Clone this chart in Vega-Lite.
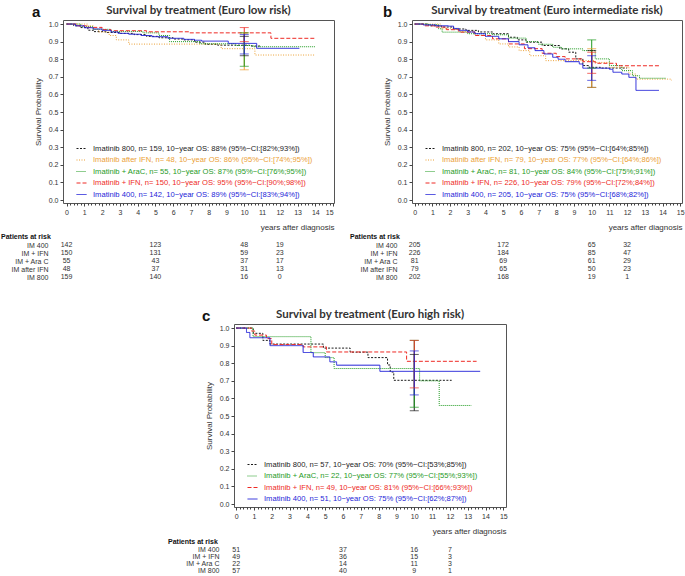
{
  "$schema": "https://vega.github.io/schema/vega-lite/v6.json",
  "padding": {"left": 1, "top": 4, "right": 0, "bottom": 0},
  "background": "white",
  "config": {
    "view": {"stroke": "#555", "strokeWidth": 1},
    "font": "Liberation Sans",
    "axis": {"labelFont": "Liberation Sans", "labelFontSize": 7, "labelColor": "#333", "tickColor": "#444", "titleFont": "Liberation Sans", "titleFontWeight": "normal", "titleFontSize": 8, "titleColor": "#333", "grid": false, "domain": false}
  },
  "datasets": {
    "curvesA": [
      {"g": "800", "t": 0, "s": 1}, {"g": "800", "t": 0.4, "s": 0.99}, {"g": "800", "t": 0.8, "s": 0.98}, {"g": "800", "t": 1.2, "s": 0.965}, {"g": "800", "t": 1.5, "s": 0.957}, {"g": "800", "t": 2.2, "s": 0.952}, {"g": "800", "t": 3, "s": 0.947}, {"g": "800", "t": 3.8, "s": 0.94}, {"g": "800", "t": 4.5, "s": 0.93}, {"g": "800", "t": 5.2, "s": 0.922}, {"g": "800", "t": 6, "s": 0.915}, {"g": "800", "t": 6.6, "s": 0.91}, {"g": "800", "t": 7.2, "s": 0.897}, {"g": "800", "t": 7.8, "s": 0.885}, {"g": "800", "t": 8.5, "s": 0.88}, {"g": "800", "t": 10.3, "s": 0.875}, {"g": "800", "t": 10.9, "s": 0.875},
      {"g": "afterIFN", "t": 0, "s": 1}, {"g": "afterIFN", "t": 1.2, "s": 0.99}, {"g": "afterIFN", "t": 1.5, "s": 0.97}, {"g": "afterIFN", "t": 1.8, "s": 0.955}, {"g": "afterIFN", "t": 2.4, "s": 0.935}, {"g": "afterIFN", "t": 2.8, "s": 0.91}, {"g": "afterIFN", "t": 3.5, "s": 0.886}, {"g": "afterIFN", "t": 8.7, "s": 0.86}, {"g": "afterIFN", "t": 10.6, "s": 0.824}, {"g": "afterIFN", "t": 14, "s": 0.824},
      {"g": "AraC", "t": 0, "s": 1}, {"g": "AraC", "t": 0.8, "s": 0.985}, {"g": "AraC", "t": 1.5, "s": 0.97}, {"g": "AraC", "t": 2.5, "s": 0.958}, {"g": "AraC", "t": 4.3, "s": 0.95}, {"g": "AraC", "t": 5.2, "s": 0.935}, {"g": "AraC", "t": 5.8, "s": 0.9}, {"g": "AraC", "t": 7.5, "s": 0.888}, {"g": "AraC", "t": 9.5, "s": 0.878}, {"g": "AraC", "t": 10.5, "s": 0.871}, {"g": "AraC", "t": 14, "s": 0.871},
      {"g": "IFN", "t": 0, "s": 1}, {"g": "IFN", "t": 0.6, "s": 0.99}, {"g": "IFN", "t": 1.2, "s": 0.981}, {"g": "IFN", "t": 2, "s": 0.968}, {"g": "IFN", "t": 2.5, "s": 0.962}, {"g": "IFN", "t": 4.5, "s": 0.956}, {"g": "IFN", "t": 6.9, "s": 0.95}, {"g": "IFN", "t": 11.5, "s": 0.919}, {"g": "IFN", "t": 14, "s": 0.919},
      {"g": "400", "t": 0, "s": 1}, {"g": "400", "t": 0.5, "s": 0.99}, {"g": "400", "t": 1, "s": 0.979}, {"g": "400", "t": 1.5, "s": 0.972}, {"g": "400", "t": 2, "s": 0.964}, {"g": "400", "t": 2.5, "s": 0.955}, {"g": "400", "t": 2.9, "s": 0.947}, {"g": "400", "t": 3.5, "s": 0.942}, {"g": "400", "t": 4.2, "s": 0.935}, {"g": "400", "t": 4.8, "s": 0.928}, {"g": "400", "t": 5.7, "s": 0.919}, {"g": "400", "t": 6.6, "s": 0.913}, {"g": "400", "t": 7.2, "s": 0.908}, {"g": "400", "t": 7.6, "s": 0.903}, {"g": "400", "t": 9.1, "s": 0.89}, {"g": "400", "t": 10.7, "s": 0.862}, {"g": "400", "t": 13.1, "s": 0.862}
    ],
    "curvesB": [
      {"g": "800", "t": 0, "s": 1}, {"g": "800", "t": 0.8, "s": 0.99}, {"g": "800", "t": 1.5, "s": 0.983}, {"g": "800", "t": 2.2, "s": 0.972}, {"g": "800", "t": 2.9, "s": 0.964}, {"g": "800", "t": 3.6, "s": 0.955}, {"g": "800", "t": 4.4, "s": 0.945}, {"g": "800", "t": 5.3, "s": 0.925}, {"g": "800", "t": 5.8, "s": 0.91}, {"g": "800", "t": 6.3, "s": 0.897}, {"g": "800", "t": 7.2, "s": 0.878}, {"g": "800", "t": 8.2, "s": 0.859}, {"g": "800", "t": 8.7, "s": 0.84}, {"g": "800", "t": 9.1, "s": 0.802}, {"g": "800", "t": 9.5, "s": 0.764}, {"g": "800", "t": 9.85, "s": 0.754}, {"g": "800", "t": 10.5, "s": 0.75}, {"g": "800", "t": 12, "s": 0.75},
      {"g": "afterIFN", "t": 0, "s": 1}, {"g": "afterIFN", "t": 1.5, "s": 0.973}, {"g": "afterIFN", "t": 2.5, "s": 0.958}, {"g": "afterIFN", "t": 3.4, "s": 0.935}, {"g": "afterIFN", "t": 4, "s": 0.91}, {"g": "afterIFN", "t": 4.75, "s": 0.887}, {"g": "afterIFN", "t": 5.3, "s": 0.87}, {"g": "afterIFN", "t": 5.9, "s": 0.849}, {"g": "afterIFN", "t": 6.5, "s": 0.82}, {"g": "afterIFN", "t": 7.4, "s": 0.792}, {"g": "afterIFN", "t": 10.2, "s": 0.782}, {"g": "afterIFN", "t": 11, "s": 0.754}, {"g": "afterIFN", "t": 12.1, "s": 0.716}, {"g": "afterIFN", "t": 12.5, "s": 0.687}, {"g": "afterIFN", "t": 14.5, "s": 0.68},
      {"g": "AraC", "t": 0, "s": 1}, {"g": "AraC", "t": 0.8, "s": 0.996}, {"g": "AraC", "t": 1.35, "s": 0.973}, {"g": "AraC", "t": 1.55, "s": 0.954}, {"g": "AraC", "t": 3, "s": 0.945}, {"g": "AraC", "t": 4.4, "s": 0.939}, {"g": "AraC", "t": 5.3, "s": 0.92}, {"g": "AraC", "t": 6.3, "s": 0.9}, {"g": "AraC", "t": 7, "s": 0.885}, {"g": "AraC", "t": 7.8, "s": 0.868}, {"g": "AraC", "t": 8.3, "s": 0.859}, {"g": "AraC", "t": 9.5, "s": 0.849}, {"g": "AraC", "t": 10.2, "s": 0.802}, {"g": "AraC", "t": 11, "s": 0.764}, {"g": "AraC", "t": 11.7, "s": 0.735}, {"g": "AraC", "t": 12.3, "s": 0.706}, {"g": "AraC", "t": 12.7, "s": 0.692}, {"g": "AraC", "t": 14.2, "s": 0.692},
      {"g": "IFN", "t": 0, "s": 1}, {"g": "IFN", "t": 0.5, "s": 0.99}, {"g": "IFN", "t": 1.2, "s": 0.983}, {"g": "IFN", "t": 1.8, "s": 0.968}, {"g": "IFN", "t": 2.5, "s": 0.954}, {"g": "IFN", "t": 3.4, "s": 0.935}, {"g": "IFN", "t": 4.4, "s": 0.916}, {"g": "IFN", "t": 5.3, "s": 0.887}, {"g": "IFN", "t": 6.2, "s": 0.86}, {"g": "IFN", "t": 7.2, "s": 0.834}, {"g": "IFN", "t": 8, "s": 0.815}, {"g": "IFN", "t": 8.5, "s": 0.802}, {"g": "IFN", "t": 9.5, "s": 0.786}, {"g": "IFN", "t": 10.2, "s": 0.777}, {"g": "IFN", "t": 11.4, "s": 0.763}, {"g": "IFN", "t": 13.8, "s": 0.763},
      {"g": "400", "t": 0, "s": 1}, {"g": "400", "t": 0.5, "s": 0.995}, {"g": "400", "t": 1.2, "s": 0.99}, {"g": "400", "t": 1.9, "s": 0.988}, {"g": "400", "t": 2.2, "s": 0.975}, {"g": "400", "t": 2.5, "s": 0.964}, {"g": "400", "t": 3, "s": 0.955}, {"g": "400", "t": 3.4, "s": 0.945}, {"g": "400", "t": 4, "s": 0.93}, {"g": "400", "t": 4.75, "s": 0.916}, {"g": "400", "t": 5.3, "s": 0.9}, {"g": "400", "t": 5.9, "s": 0.882}, {"g": "400", "t": 6.4, "s": 0.865}, {"g": "400", "t": 6.8, "s": 0.849}, {"g": "400", "t": 7.3, "s": 0.83}, {"g": "400", "t": 7.8, "s": 0.811}, {"g": "400", "t": 8.1, "s": 0.8}, {"g": "400", "t": 8.5, "s": 0.786}, {"g": "400", "t": 9.3, "s": 0.773}, {"g": "400", "t": 9.5, "s": 0.749}, {"g": "400", "t": 11, "s": 0.743}, {"g": "400", "t": 11.2, "s": 0.726}, {"g": "400", "t": 11.7, "s": 0.716}, {"g": "400", "t": 12.1, "s": 0.697}, {"g": "400", "t": 12.5, "s": 0.623}, {"g": "400", "t": 13.8, "s": 0.623}
    ],
    "curvesC": [
      {"g": "800", "t": 0, "s": 1}, {"g": "800", "t": 0.96, "s": 0.97}, {"g": "800", "t": 1.5, "s": 0.93}, {"g": "800", "t": 1.9, "s": 0.909}, {"g": "800", "t": 4.9, "s": 0.886}, {"g": "800", "t": 6.4, "s": 0.863}, {"g": "800", "t": 7.4, "s": 0.832}, {"g": "800", "t": 8.5, "s": 0.79}, {"g": "800", "t": 8.65, "s": 0.75}, {"g": "800", "t": 8.85, "s": 0.703}, {"g": "800", "t": 12.1, "s": 0.703},
      {"g": "AraC", "t": 0, "s": 1}, {"g": "AraC", "t": 0.95, "s": 0.951}, {"g": "AraC", "t": 4.2, "s": 0.86}, {"g": "AraC", "t": 5, "s": 0.832}, {"g": "AraC", "t": 5.5, "s": 0.77}, {"g": "AraC", "t": 10.3, "s": 0.7}, {"g": "AraC", "t": 11.4, "s": 0.56}, {"g": "AraC", "t": 13.2, "s": 0.56},
      {"g": "IFN", "t": 0, "s": 1}, {"g": "IFN", "t": 0.86, "s": 0.983}, {"g": "IFN", "t": 1.05, "s": 0.96}, {"g": "IFN", "t": 1.7, "s": 0.94}, {"g": "IFN", "t": 2, "s": 0.906}, {"g": "IFN", "t": 3.76, "s": 0.893}, {"g": "IFN", "t": 5.07, "s": 0.864}, {"g": "IFN", "t": 9.57, "s": 0.811}, {"g": "IFN", "t": 13.5, "s": 0.811},
      {"g": "400", "t": 0, "s": 1}, {"g": "400", "t": 0.58, "s": 0.975}, {"g": "400", "t": 0.77, "s": 0.945}, {"g": "400", "t": 1.9, "s": 0.9}, {"g": "400", "t": 3.76, "s": 0.861}, {"g": "400", "t": 4.33, "s": 0.836}, {"g": "400", "t": 5.26, "s": 0.808}, {"g": "400", "t": 5.64, "s": 0.789}, {"g": "400", "t": 8.07, "s": 0.754}, {"g": "400", "t": 13.7, "s": 0.754}
    ],
    "ciA": [
      {"g": "800", "t": 10, "lo": 0.82, "hi": 0.93, "est": 0.88},
      {"g": "afterIFN", "t": 10, "lo": 0.74, "hi": 0.95, "est": 0.86},
      {"g": "AraC", "t": 10, "lo": 0.76, "hi": 0.95, "est": 0.87},
      {"g": "IFN", "t": 10, "lo": 0.90, "hi": 0.98, "est": 0.95},
      {"g": "400", "t": 10, "lo": 0.83, "hi": 0.94, "est": 0.89}
    ],
    "ciB": [
      {"g": "800", "t": 10, "lo": 0.64, "hi": 0.85, "est": 0.75},
      {"g": "afterIFN", "t": 10, "lo": 0.64, "hi": 0.86, "est": 0.77},
      {"g": "AraC", "t": 10, "lo": 0.75, "hi": 0.91, "est": 0.84},
      {"g": "IFN", "t": 10, "lo": 0.72, "hi": 0.84, "est": 0.79},
      {"g": "400", "t": 10, "lo": 0.68, "hi": 0.82, "est": 0.75}
    ],
    "ciC": [
      {"g": "800", "t": 10, "lo": 0.53, "hi": 0.85, "est": 0.70},
      {"g": "AraC", "t": 10, "lo": 0.55, "hi": 0.93, "est": 0.77},
      {"g": "IFN", "t": 10, "lo": 0.66, "hi": 0.93, "est": 0.81},
      {"g": "400", "t": 10, "lo": 0.62, "hi": 0.87, "est": 0.75}
    ],
    "riskA": [
      {"row": "IM 400", "t": 0, "n": 142}, {"row": "IM 400", "t": 5, "n": 123}, {"row": "IM 400", "t": 10, "n": 48}, {"row": "IM 400", "t": 12, "n": 19},
      {"row": "IM + IFN", "t": 0, "n": 150}, {"row": "IM + IFN", "t": 5, "n": 131}, {"row": "IM + IFN", "t": 10, "n": 59}, {"row": "IM + IFN", "t": 12, "n": 23},
      {"row": "IM + Ara C", "t": 0, "n": 55}, {"row": "IM + Ara C", "t": 5, "n": 43}, {"row": "IM + Ara C", "t": 10, "n": 37}, {"row": "IM + Ara C", "t": 12, "n": 17},
      {"row": "IM after IFN", "t": 0, "n": 48}, {"row": "IM after IFN", "t": 5, "n": 37}, {"row": "IM after IFN", "t": 10, "n": 31}, {"row": "IM after IFN", "t": 12, "n": 13},
      {"row": "IM 800", "t": 0, "n": 159}, {"row": "IM 800", "t": 5, "n": 140}, {"row": "IM 800", "t": 10, "n": 16}, {"row": "IM 800", "t": 12, "n": 0}
    ],
    "riskB": [
      {"row": "IM 400", "t": 0, "n": 205}, {"row": "IM 400", "t": 5, "n": 172}, {"row": "IM 400", "t": 10, "n": 65}, {"row": "IM 400", "t": 12, "n": 32},
      {"row": "IM + IFN", "t": 0, "n": 226}, {"row": "IM + IFN", "t": 5, "n": 184}, {"row": "IM + IFN", "t": 10, "n": 85}, {"row": "IM + IFN", "t": 12, "n": 47},
      {"row": "IM + Ara C", "t": 0, "n": 81}, {"row": "IM + Ara C", "t": 5, "n": 69}, {"row": "IM + Ara C", "t": 10, "n": 61}, {"row": "IM + Ara C", "t": 12, "n": 29},
      {"row": "IM after IFN", "t": 0, "n": 79}, {"row": "IM after IFN", "t": 5, "n": 65}, {"row": "IM after IFN", "t": 10, "n": 50}, {"row": "IM after IFN", "t": 12, "n": 23},
      {"row": "IM 800", "t": 0, "n": 202}, {"row": "IM 800", "t": 5, "n": 168}, {"row": "IM 800", "t": 10, "n": 19}, {"row": "IM 800", "t": 12, "n": 1}
    ],
    "riskC": [
      {"row": "IM 400", "t": 0, "n": 51}, {"row": "IM 400", "t": 6, "n": 37}, {"row": "IM 400", "t": 10, "n": 16}, {"row": "IM 400", "t": 12, "n": 7},
      {"row": "IM + IFN", "t": 0, "n": 49}, {"row": "IM + IFN", "t": 6, "n": 36}, {"row": "IM + IFN", "t": 10, "n": 15}, {"row": "IM + IFN", "t": 12, "n": 3},
      {"row": "IM + Ara C", "t": 0, "n": 22}, {"row": "IM + Ara C", "t": 6, "n": 14}, {"row": "IM + Ara C", "t": 10, "n": 11}, {"row": "IM + Ara C", "t": 12, "n": 3},
      {"row": "IM 800", "t": 0, "n": 57}, {"row": "IM 800", "t": 6, "n": 40}, {"row": "IM 800", "t": 10, "n": 9}, {"row": "IM 800", "t": 12, "n": 1}
    ]
  },
  "resolve": {"scale": {"color": "independent", "strokeDash": "independent", "strokeWidth": "independent"}},
  "spacing": 27,
  "vconcat": [
    {
      "resolve": {"scale": {"color": "independent", "strokeDash": "independent", "strokeWidth": "independent"}},
      "spacing": 15,
      "hconcat": [
        {
          "title": {"text": "a", "anchor": "start", "fontSize": 15, "fontWeight": "bold", "font": "Liberation Sans", "color": "#111", "offset": -16, "dx": 31},
          "resolve": {"scale": {"color": "independent", "strokeDash": "independent", "strokeWidth": "independent"}},
          "spacing": 1,
          "vconcat": [
            {
              "width": 271, "height": 183,
              "title": {"text": "Survival by treatment (Euro low risk)", "frame": "group", "anchor": "middle", "font": "Lato", "fontSize": 11.5, "fontWeight": "bold", "color": "#333", "offset": 4},
              "resolve": {"axis": {"x": "independent", "y": "independent"}},
              "layer": [
                {
                  "data": {"name": "curvesA"},
                  "mark": {"type": "line", "interpolate": "step-after"},
                  "encoding": {
                    "x": {"field": "t", "type": "quantitative", "scale": {"domain": [-0.2, 15.05], "nice": false, "zero": false},
                      "axis": {"orient": "bottom", "values": [0,1,2,3,4,5,6,7,8,9,10,11,12,13,14,15], "format": "d", "tickSize": 3, "labelPadding": 2, "title": "years after diagnosis", "titleAnchor": "end", "titlePadding": 8}},
                    "y": {"field": "s", "type": "quantitative", "scale": {"domain": [-0.017, 1.023], "nice": false, "zero": false},
                      "axis": {"orient": "left", "title": "Survival Probability", "values": [0,0.1,0.2,0.3,0.4,0.5,0.6,0.7,0.8,0.9,1], "format": ".1f", "tickSize": 3, "labelPadding": 2, "titlePadding": 6}},
                    "color": {"field": "g", "type": "nominal", "sort": null,
                      "scale": {"domain": ["800", "afterIFN", "AraC", "IFN", "400"], "range": ["#1b1b1b", "#EBA035", "#1E9A1E", "#EE2A24", "#2424D8"]},
                      "legend": {"orient": "bottom-left", "title": null, "offset": 4, "padding": 0, "symbolType": "stroke", "symbolSize": 100, "symbolStrokeWidth": 1, "symbolOffset": 9, "labelFontSize": 7.6, "labelFont": "Liberation Sans", "labelLimit": 400, "labelOffset": 6, "rowPadding": 1.5,
                        "labelExpr": "{'800': 'Imatinib 800, n= 159, 10−year OS: 88% (95%−CI:[82%;93%])', 'afterIFN': 'Imatinib after IFN, n= 48, 10−year OS: 86% (95%−CI:[74%;95%])', 'AraC': 'Imatinib + AraC, n= 55, 10−year OS: 87% (95%−CI:[76%;95%])', 'IFN': 'Imatinib + IFN, n= 150, 10−year OS: 95% (95%−CI:[90%;98%])', '400': 'Imatinib 400, n= 142, 10−year OS: 89% (95%−CI:[83%;94%])'}[datum.value]",
                        "encode": {"labels": {"update": {"fill": {"signal": "{'800': '#1b1b1b', 'afterIFN': '#EBA035', 'AraC': '#1E9A1E', 'IFN': '#EE2A24', '400': '#2424D8'}[datum.value]"}}}}}},
                    "strokeDash": {"field": "g", "type": "nominal", "sort": null, "scale": {"domain": ["800", "afterIFN", "AraC", "IFN", "400"], "range": [[2, 1.5], [1, 1.5], [1, 1], [4, 2], [1, 0]]}},
                    "strokeWidth": {"field": "g", "type": "nominal", "sort": null, "scale": {"domain": ["800", "afterIFN", "AraC", "IFN", "400"], "range": [1, 1, 1, 1, 1.6]}}
                  }
                },
                {
                  "data": {"name": "ciA"},
                  "mark": {"type": "rule", "strokeWidth": 1},
                  "encoding": {
                    "x": {"field": "t", "type": "quantitative", "axis": {"orient": "bottom", "values": [0,0.2,0.4,0.6,0.8,1,1.2,1.4,1.6,1.8,2,2.2,2.4,2.6,2.8,3,3.2,3.4,3.6,3.8,4,4.2,4.4,4.6,4.8,5,5.2,5.4,5.6,5.8,6,6.2,6.4,6.6,6.8,7,7.2,7.4,7.6,7.8,8,8.2,8.4,8.6,8.8,9,9.2,9.4,9.6,9.8,10,10.2,10.4,10.6,10.8,11,11.2,11.4,11.6,11.8,12,12.2,12.4,12.6,12.8,13,13.2,13.4,13.6,13.8,14,14.2,14.4,14.6,14.8,15], "labels": false, "tickSize": 2, "title": null}},
                    "y": {"field": "lo", "type": "quantitative", "axis": null},
                    "y2": {"field": "hi"},
                    "color": {"field": "g", "type": "nominal", "sort": null}
                  }
                },
                {
                  "data": {"name": "ciA"},
                  "mark": {"type": "tick", "orient": "horizontal", "size": 9, "thickness": 1},
                  "encoding": {"x": {"field": "t", "type": "quantitative", "axis": null}, "y": {"field": "lo", "type": "quantitative", "axis": null}, "color": {"field": "g", "type": "nominal", "sort": null}}
                },
                {
                  "data": {"name": "ciA"},
                  "mark": {"type": "tick", "orient": "horizontal", "size": 9, "thickness": 1},
                  "encoding": {"x": {"field": "t", "type": "quantitative", "axis": null}, "y": {"field": "hi", "type": "quantitative", "axis": null}, "color": {"field": "g", "type": "nominal", "sort": null}}
                }
              ]
            },
            {
              "data": {"name": "riskA"},
              "width": 271, "height": 40,
              "view": {"stroke": null},
              "title": {"text": "Patients at risk", "anchor": "start", "frame": "group", "dx": -62, "fontSize": 7, "fontWeight": "bold", "font": "Liberation Sans", "color": "#111", "offset": 1},
              "mark": {"type": "text", "fontSize": 7, "font": "Liberation Sans", "color": "#333"},
              "encoding": {
                "x": {"field": "t", "type": "quantitative", "scale": {"domain": [-0.2, 15.05], "nice": false, "zero": false}, "axis": null},
                "y": {"field": "row", "type": "nominal", "sort": ["IM 400", "IM + IFN", "IM + Ara C", "IM after IFN", "IM 800"], "axis": {"title": null, "ticks": false, "labelPadding": 15, "labelFontSize": 7}},
                "text": {"field": "n", "type": "quantitative"}
              }
            }
          ]
        },
        {
          "title": {"text": "b", "anchor": "start", "fontSize": 15, "fontWeight": "bold", "font": "Liberation Sans", "color": "#111", "offset": -16, "dx": 33},
          "resolve": {"scale": {"color": "independent", "strokeDash": "independent", "strokeWidth": "independent"}},
          "spacing": 1,
          "vconcat": [
            {
              "width": 270, "height": 183,
              "title": {"text": "Survival by treatment (Euro intermediate risk)", "frame": "group", "anchor": "middle", "font": "Lato", "fontSize": 11.5, "fontWeight": "bold", "color": "#333", "offset": 4},
              "resolve": {"axis": {"x": "independent", "y": "independent"}},
              "layer": [
                {
                  "data": {"name": "curvesB"},
                  "mark": {"type": "line", "interpolate": "step-after"},
                  "encoding": {
                    "x": {"field": "t", "type": "quantitative", "scale": {"domain": [-0.15, 15.1], "nice": false, "zero": false},
                      "axis": {"orient": "bottom", "values": [0,1,2,3,4,5,6,7,8,9,10,11,12,13,14,15], "format": "d", "tickSize": 3, "labelPadding": 2, "title": "years after diagnosis", "titleAnchor": "end", "titlePadding": 8}},
                    "y": {"field": "s", "type": "quantitative", "scale": {"domain": [-0.017, 1.023], "nice": false, "zero": false},
                      "axis": {"orient": "left", "title": "Survival Probability", "values": [0,0.1,0.2,0.3,0.4,0.5,0.6,0.7,0.8,0.9,1], "format": ".1f", "tickSize": 3, "labelPadding": 2, "titlePadding": 6}},
                    "color": {"field": "g", "type": "nominal", "sort": null,
                      "scale": {"domain": ["800", "afterIFN", "AraC", "IFN", "400"], "range": ["#1b1b1b", "#EBA035", "#1E9A1E", "#EE2A24", "#2424D8"]},
                      "legend": {"orient": "bottom-left", "title": null, "offset": 4, "padding": 0, "symbolType": "stroke", "symbolSize": 100, "symbolStrokeWidth": 1, "symbolOffset": 9, "labelFontSize": 7.6, "labelFont": "Liberation Sans", "labelLimit": 400, "labelOffset": 6, "rowPadding": 1.5,
                        "labelExpr": "{'800': 'Imatinib 800, n= 202, 10−year OS: 75% (95%−CI:[64%;85%])', 'afterIFN': 'Imatinib after IFN, n= 79, 10−year OS: 77% (95%−CI:[64%;86%])', 'AraC': 'Imatinib + AraC, n= 81, 10−year OS: 84% (95%−CI:[75%;91%])', 'IFN': 'Imatinib + IFN, n= 226, 10−year OS: 79% (95%−CI:[72%;84%])', '400': 'Imatinib 400, n= 205, 10−year OS: 75% (95%−CI:[68%;82%])'}[datum.value]",
                        "encode": {"labels": {"update": {"fill": {"signal": "{'800': '#1b1b1b', 'afterIFN': '#EBA035', 'AraC': '#1E9A1E', 'IFN': '#EE2A24', '400': '#2424D8'}[datum.value]"}}}}}},
                    "strokeDash": {"field": "g", "type": "nominal", "sort": null, "scale": {"domain": ["800", "afterIFN", "AraC", "IFN", "400"], "range": [[2, 1.5], [1, 1.5], [1, 1], [4, 2], [1, 0]]}},
                    "strokeWidth": {"field": "g", "type": "nominal", "sort": null, "scale": {"domain": ["800", "afterIFN", "AraC", "IFN", "400"], "range": [1, 1, 1, 1, 1.6]}}
                  }
                },
                {
                  "data": {"name": "ciB"},
                  "mark": {"type": "rule", "strokeWidth": 1},
                  "encoding": {
                    "x": {"field": "t", "type": "quantitative", "axis": {"orient": "bottom", "values": [0,0.2,0.4,0.6,0.8,1,1.2,1.4,1.6,1.8,2,2.2,2.4,2.6,2.8,3,3.2,3.4,3.6,3.8,4,4.2,4.4,4.6,4.8,5,5.2,5.4,5.6,5.8,6,6.2,6.4,6.6,6.8,7,7.2,7.4,7.6,7.8,8,8.2,8.4,8.6,8.8,9,9.2,9.4,9.6,9.8,10,10.2,10.4,10.6,10.8,11,11.2,11.4,11.6,11.8,12,12.2,12.4,12.6,12.8,13,13.2,13.4,13.6,13.8,14,14.2,14.4,14.6,14.8,15], "labels": false, "tickSize": 2, "title": null}},
                    "y": {"field": "lo", "type": "quantitative", "axis": null},
                    "y2": {"field": "hi"},
                    "color": {"field": "g", "type": "nominal", "sort": null}
                  }
                },
                {
                  "data": {"name": "ciB"},
                  "mark": {"type": "tick", "orient": "horizontal", "size": 9, "thickness": 1},
                  "encoding": {"x": {"field": "t", "type": "quantitative", "axis": null}, "y": {"field": "lo", "type": "quantitative", "axis": null}, "color": {"field": "g", "type": "nominal", "sort": null}}
                },
                {
                  "data": {"name": "ciB"},
                  "mark": {"type": "tick", "orient": "horizontal", "size": 9, "thickness": 1},
                  "encoding": {"x": {"field": "t", "type": "quantitative", "axis": null}, "y": {"field": "hi", "type": "quantitative", "axis": null}, "color": {"field": "g", "type": "nominal", "sort": null}}
                }
              ]
            },
            {
              "data": {"name": "riskB"},
              "width": 270, "height": 40,
              "view": {"stroke": null},
              "title": {"text": "Patients at risk", "anchor": "start", "frame": "group", "dx": -62, "fontSize": 7, "fontWeight": "bold", "font": "Liberation Sans", "color": "#111", "offset": 1},
              "mark": {"type": "text", "fontSize": 7, "font": "Liberation Sans", "color": "#333"},
              "encoding": {
                "x": {"field": "t", "type": "quantitative", "scale": {"domain": [-0.15, 15.1], "nice": false, "zero": false}, "axis": null},
                "y": {"field": "row", "type": "nominal", "sort": ["IM 400", "IM + IFN", "IM + Ara C", "IM after IFN", "IM 800"], "axis": {"title": null, "ticks": false, "labelPadding": 15, "labelFontSize": 7}},
                "text": {"field": "n", "type": "quantitative"}
              }
            }
          ]
        }
      ]
    },
    {
      "resolve": {"scale": {"color": "independent", "strokeDash": "independent", "strokeWidth": "independent"}},
      "spacing": 0,
      "hconcat": [
        {"width": 105, "height": 10, "view": {"stroke": null}, "data": {"values": []}, "mark": "point"},
        {
          "title": {"text": "c", "anchor": "start", "fontSize": 15, "fontWeight": "bold", "font": "Liberation Sans", "color": "#111", "offset": -16, "dx": 34},
          "resolve": {"scale": {"color": "independent", "strokeDash": "independent", "strokeWidth": "independent"}},
          "spacing": 1,
          "vconcat": [
            {
              "width": 272, "height": 183,
              "title": {"text": "Survival by treatment (Euro high risk)", "frame": "group", "anchor": "middle", "font": "Lato", "fontSize": 11.5, "fontWeight": "bold", "color": "#333", "offset": 4},
              "resolve": {"axis": {"x": "independent", "y": "independent"}},
              "layer": [
                {
                  "data": {"name": "curvesC"},
                  "mark": {"type": "line", "interpolate": "step-after"},
                  "encoding": {
                    "x": {"field": "t", "type": "quantitative", "scale": {"domain": [-0.12, 15.15], "nice": false, "zero": false},
                      "axis": {"orient": "bottom", "values": [0,1,2,3,4,5,6,7,8,9,10,11,12,13,14,15], "format": "d", "tickSize": 3, "labelPadding": 2, "title": "years after diagnosis", "titleAnchor": "end", "titlePadding": 8}},
                    "y": {"field": "s", "type": "quantitative", "scale": {"domain": [-0.017, 1.023], "nice": false, "zero": false},
                      "axis": {"orient": "left", "title": "Survival Probability", "values": [0,0.1,0.2,0.3,0.4,0.5,0.6,0.7,0.8,0.9,1], "format": ".1f", "tickSize": 3, "labelPadding": 2, "titlePadding": 6}},
                    "color": {"field": "g", "type": "nominal", "sort": null,
                      "scale": {"domain": ["800", "AraC", "IFN", "400"], "range": ["#1b1b1b", "#1E9A1E", "#EE2A24", "#2424D8"]},
                      "legend": {"orient": "bottom-left", "title": null, "offset": 4, "padding": 0, "symbolType": "stroke", "symbolSize": 100, "symbolStrokeWidth": 1, "symbolOffset": 9, "labelFontSize": 7.6, "labelFont": "Liberation Sans", "labelLimit": 400, "labelOffset": 6, "rowPadding": 1.5,
                        "labelExpr": "{'800': 'Imatinib 800, n= 57, 10−year OS: 70% (95%−CI:[53%;85%])', 'AraC': 'Imatinib + AraC, n= 22, 10−year OS: 77% (95%−CI:[55%;93%])', 'IFN': 'Imatinib + IFN, n= 49, 10−year OS: 81% (95%−CI:[66%;93%])', '400': 'Imatinib 400, n= 51, 10−year OS: 75% (95%−CI:[62%;87%])'}[datum.value]",
                        "encode": {"labels": {"update": {"fill": {"signal": "{'800': '#1b1b1b', 'AraC': '#1E9A1E', 'IFN': '#EE2A24', '400': '#2424D8'}[datum.value]"}}}}}},
                    "strokeDash": {"field": "g", "type": "nominal", "sort": null, "scale": {"domain": ["800", "AraC", "IFN", "400"], "range": [[2, 1.5], [1, 1], [4, 2], [1, 0]]}},
                    "strokeWidth": {"field": "g", "type": "nominal", "sort": null, "scale": {"domain": ["800", "AraC", "IFN", "400"], "range": [1, 1, 1, 1.6]}}
                  }
                },
                {
                  "data": {"name": "ciC"},
                  "mark": {"type": "rule", "strokeWidth": 1},
                  "encoding": {
                    "x": {"field": "t", "type": "quantitative", "axis": {"orient": "bottom", "values": [0,0.2,0.4,0.6,0.8,1,1.2,1.4,1.6,1.8,2,2.2,2.4,2.6,2.8,3,3.2,3.4,3.6,3.8,4,4.2,4.4,4.6,4.8,5,5.2,5.4,5.6,5.8,6,6.2,6.4,6.6,6.8,7,7.2,7.4,7.6,7.8,8,8.2,8.4,8.6,8.8,9,9.2,9.4,9.6,9.8,10,10.2,10.4,10.6,10.8,11,11.2,11.4,11.6,11.8,12,12.2,12.4,12.6,12.8,13,13.2,13.4,13.6,13.8,14,14.2,14.4,14.6,14.8,15], "labels": false, "tickSize": 2, "title": null}},
                    "y": {"field": "lo", "type": "quantitative", "axis": null},
                    "y2": {"field": "hi"},
                    "color": {"field": "g", "type": "nominal", "sort": null}
                  }
                },
                {
                  "data": {"name": "ciC"},
                  "mark": {"type": "tick", "orient": "horizontal", "size": 9, "thickness": 1},
                  "encoding": {"x": {"field": "t", "type": "quantitative", "axis": null}, "y": {"field": "lo", "type": "quantitative", "axis": null}, "color": {"field": "g", "type": "nominal", "sort": null}}
                },
                {
                  "data": {"name": "ciC"},
                  "mark": {"type": "tick", "orient": "horizontal", "size": 9, "thickness": 1},
                  "encoding": {"x": {"field": "t", "type": "quantitative", "axis": null}, "y": {"field": "hi", "type": "quantitative", "axis": null}, "color": {"field": "g", "type": "nominal", "sort": null}}
                }
              ]
            },
            {
              "data": {"name": "riskC"},
              "width": 272, "height": 28,
              "view": {"stroke": null},
              "title": {"text": "Patients at risk", "anchor": "start", "frame": "group", "dx": -66, "fontSize": 7, "fontWeight": "bold", "font": "Liberation Sans", "color": "#111", "offset": 1},
              "mark": {"type": "text", "fontSize": 7, "font": "Liberation Sans", "color": "#333"},
              "encoding": {
                "x": {"field": "t", "type": "quantitative", "scale": {"domain": [-0.12, 15.15], "nice": false, "zero": false}, "axis": null},
                "y": {"field": "row", "type": "nominal", "sort": ["IM 400", "IM + IFN", "IM + Ara C", "IM 800"], "axis": {"title": null, "ticks": false, "labelPadding": 15, "labelFontSize": 7}},
                "text": {"field": "n", "type": "quantitative"}
              }
            }
          ]
        }
      ]
    }
  ]
}
